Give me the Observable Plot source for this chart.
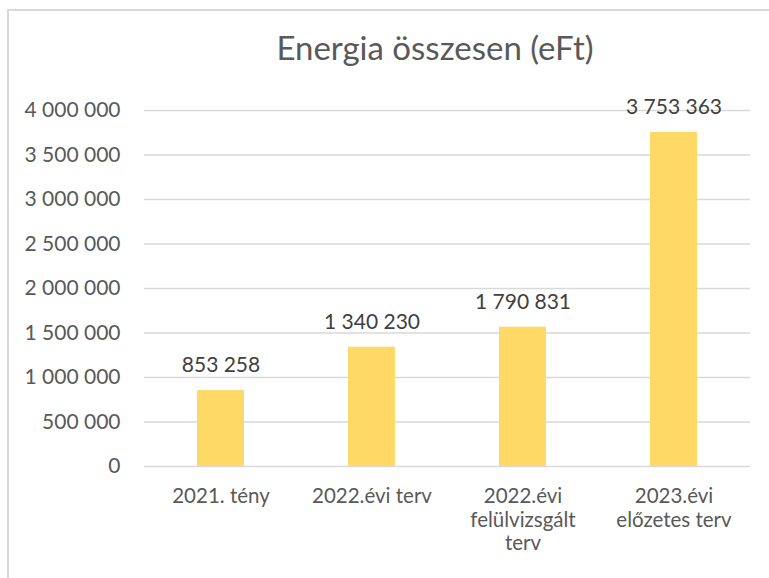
<!DOCTYPE html>
<html>
<head>
<meta charset="utf-8">
<script src="https://cdn.jsdelivr.net/npm/d3@7"></script>
<script src="https://cdn.jsdelivr.net/npm/@observablehq/plot@0.6"></script>
<style>
  html, body { margin: 0; padding: 0; background: #fff; }
  #wrap { position: relative; width: 769px; height: 578px; overflow: hidden; font-family: Lato, sans-serif; }
  #frame { position: absolute; left: 7px; top: 9px; width: 900px; height: 700px; border: 2px solid #d9d9d9; box-sizing: border-box; }
  #title { position: absolute; left: 0; width: 870px; top: 27px; text-align: center; font-size: 33px; color: #595959; line-height: 40px; }
  #chart { position: absolute; left: 0; top: 0; }
</style>
</head>
<body>
<div id="wrap">
  <div id="frame"></div>
  <div id="chart"></div>
  <div id="title">Energia összesen (eFt)</div>
</div>
<script>
// Data
const categories = ["2021. tény", "2022.évi terv", "2022.évi felülvizsgált terv", "2023.évi előzetes terv"];
const categoryLabels = ["2021. tény", "2022.évi terv", "2022.évi\nfelülvizsgált\nterv", "2023.évi\nelőzetes terv"];
const barValues = [853258, 1340230, 1565000, 3753363];     // bar heights as drawn
const labelValues = [853258, 1340230, 1790831, 3753363];   // data labels as printed
const yTicks = [0, 500000, 1000000, 1500000, 2000000, 2500000, 3000000, 3500000, 4000000];

const locale = d3.formatLocale({decimal: ",", thousands: " ", grouping: [3], currency: ["", ""]});
const fmt = locale.format(",d");

const data = categories.map((c, i) => ({cat: c, value: barValues[i], label: fmt(labelValues[i])}));
const catLabel = new Map(categories.map((c, i) => [c, categoryLabels[i]]));

const chart = Plot.plot({
  width: 769,
  height: 578,
  marginTop: 110,
  marginBottom: 112,
  marginLeft: 144,
  marginRight: 19,
  style: {fontFamily: "Lato, sans-serif", fontSize: "20px", color: "#595959", background: "transparent"},
  x: {domain: categories, paddingInner: 0.69, paddingOuter: 0.345, label: null},
  y: {domain: [0, 4000000], label: null},
  marks: [
    Plot.gridY(yTicks, {stroke: "#d9d9d9", strokeWidth: 1.5, strokeOpacity: 1}),
    Plot.axisY(yTicks, {tickSize: 0, tickPadding: 24, tickFormat: fmt, fill: "#595959", fontSize: 21, label: null}),
    Plot.axisX({tickSize: 0, tickPadding: 19, tickFormat: d => catLabel.get(d), fill: "#595959", fontSize: 20.5, lineHeight: 1.17, label: null}),
    Plot.barY(data, {x: "cat", y: "value", fill: "#FFD966"}),
    Plot.text(data, {x: "cat", y: "value", text: "label", dy: -25, fill: "#404040", fontSize: 21})
  ]
});
document.getElementById("chart").appendChild(chart);
</script>
</body>
</html>
